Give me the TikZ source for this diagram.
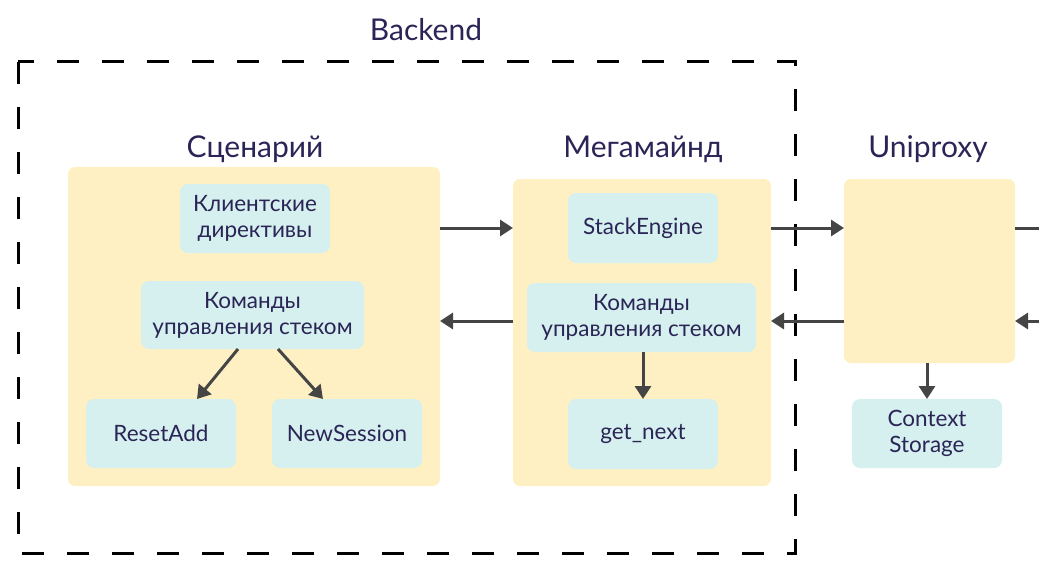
\documentclass[tikz,border=0pt]{standalone}
\usepackage{fontspec}
\setmainfont{Lato}
\usetikzlibrary{arrows.meta}
\definecolor{ybg}{HTML}{FEF0C3}
\definecolor{cbg}{HTML}{D5F0EE}
\definecolor{txt}{HTML}{2B2557}
\definecolor{arr}{HTML}{454545}
\tikzset{
  ybox/.style={fill=ybg, rounded corners=7pt, draw=none, inner sep=0pt, outer sep=0pt},
  cbox/.style={fill=cbg, rounded corners=8pt, draw=none, inner sep=0pt, outer sep=0pt,
    text=txt, align=center, font=\fontsize{22.5}{26}\selectfont},
  ttl/.style={text=txt, font=\fontsize{30}{34}\selectfont, inner sep=0pt},
  conn/.style={draw=arr, line width=3pt, -{Triangle[length=13pt,width=16pt]}},
  plain/.style={draw=arr, line width=3pt},
}
\begin{document}
\begin{tikzpicture}[x=1pt,y=-1pt]
\path[use as bounding box] (0,0) rectangle (1039,583);
% backend frame
\draw[line width=3pt, dash pattern=on 22pt off 23pt] (18,62) rectangle (795,553);
\node[ttl] (backend) at (426,30) {Backend};
% big boxes
\node[ybox, minimum width=372pt, minimum height=319pt] (scen) at (254,326.5) {};
\node[ybox, minimum width=258pt, minimum height=307pt] (mega) at (642,332.5) {};
\node[ybox, minimum width=171pt, minimum height=184pt] (uni) at (929.5,271) {};
\node[ttl] (tscen) at (255,149) {Сценарий};
\node[ttl] (tmega) at (643,149) {Мегамайнд};
\node[ttl] (tuni) at (928,149) {Uniproxy};
% inner boxes
\node[cbox, minimum width=150pt, minimum height=69pt] (klient) at (255,218.5) {Клиентские\\директивы};
\node[cbox, minimum width=223pt, minimum height=68pt] (kom1) at (252.5,315) {Команды\\управления стеком};
\node[cbox, minimum width=150pt, minimum height=69pt] (reset) at (161,433.5) {ResetAdd};
\node[cbox, minimum width=150pt, minimum height=69pt] (newsess) at (347,433.5) {NewSession};
\node[cbox, minimum width=150pt, minimum height=70pt] (stack) at (643,228) {StackEngine};
\node[cbox, minimum width=229pt, minimum height=69pt] (kom2) at (641.5,317.5) {Команды\\управления стеком};
\node[cbox, minimum width=150pt, minimum height=70pt] (getnext) at (643,434) {get\_next};
\node[cbox, minimum width=150pt, minimum height=69pt] (ctx) at (927,433.5) {Context\\Storage};
% levels
\coordinate (r1) at (0,228);
\coordinate (r2) at (0,321);
\coordinate (e1) at (1039,228);
\coordinate (e2) at (1039,321);
% connectors
\draw[conn] ([xshift=-14.5pt]kom1.south) -- ([xshift=36pt]reset.north);
\draw[conn] ([xshift=25.5pt]kom1.south) -- ([xshift=-24pt]newsess.north);
\draw[conn] ([xshift=1.5pt]kom2.south) -- (getnext.north);
\draw[conn] (uni.south -| ctx.north) -- (ctx.north);
\draw[conn] (scen.east |- r1) -- (mega.west |- r1);
\draw[conn] (mega.west |- r2) -- (scen.east |- r2);
\draw[conn] (mega.east |- r1) -- (uni.west |- r1);
\draw[conn] (uni.west |- r2) -- (mega.east |- r2);
\draw[plain] (uni.east |- r1) -- (e1);
\draw[conn] (e2) -- (uni.east |- r2);
\end{tikzpicture}
\end{document}
